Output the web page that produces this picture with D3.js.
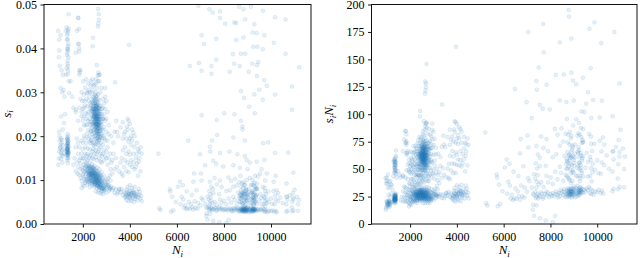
<!DOCTYPE html>
<html><head><meta charset="utf-8">
<script src="https://cdn.jsdelivr.net/npm/d3@7"></script>
<style>
body{margin:0;background:#fff}
svg text{font-family:"Liberation Serif","Times New Roman",serif;fill:#000}
</style>
</head><body><svg id="c" width="640" height="258"></svg>
<script>
// ---- data: [N_i, s_i] pairs (right panel plots s_i*N_i) ----
const upperCore = [[2450,.0262],[2510,.0248],[2580,.0231],[2620,.0219],[2490,.0270],[2540,.0255],[2600,.0240],[2660,.0226],[2470,.0251],[2530,.0236],
[2570,.0222],[2640,.0210],[2420,.0265],[2500,.0243],[2560,.0268],[2610,.0252],[2680,.0238],[2440,.0230],[2520,.0214],[2590,.0205],
[2480,.0276],[2550,.0284],[2630,.0262],[2700,.0245],[2410,.0248],[2460,.0239],[2540,.0226],[2600,.0212],[2650,.0247],[2720,.0230],
[2500,.0258],[2570,.0246],[2620,.0233],[2680,.0219],[2430,.0274],[2510,.0281],[2580,.0259],[2640,.0239],[2490,.0228],[2560,.0217],
[2470,.0244],[2530,.0229],[2590,.0265],[2660,.0252],[2400,.0257],[2550,.0240],[2610,.0227],[2690,.0211],[2520,.0263],[2580,.0250],
[2460,.0285],[2540,.0272],[2620,.0243],[2700,.0224],[2450,.0222],[2500,.0232],[2570,.0209],[2640,.0201],[2480,.0254],[2550,.0249],
[2600,.0236],[2660,.0218],[2520,.0241],[2590,.0228],[2630,.0255],[2420,.0240],[2490,.0262],[2560,.0259],[2610,.0246],[2670,.0233],
[2440,.0268],[2510,.0253],[2580,.0238],[2650,.0224],[2530,.0277],[2600,.0270],[2470,.0233],[2540,.0220],[2620,.0207],[2690,.0240],
[2500,.0287],[2560,.0290],[2430,.0281],[2620,.0272],[2380,.0262],[2720,.0250],[2550,.0232],[2610,.0224],[2490,.0247],[2570,.0242],
[2520,.0225],[2640,.0215],[2460,.0258],[2590,.0246],[2680,.0228],[2530,.0268],[2470,.0216],[2560,.0202],[2650,.0196],[2700,.0205]];
const upperCoreWide = [[2300,.0240],[2320,.0225],[2340,.0258],[2360,.0232],[2370,.0248],[2390,.0220],[2310,.0265],[2350,.0270],[2330,.0212],[2380,.0278],
[2740,.0238],[2760,.0225],[2780,.0245],[2730,.0212],[2770,.0205],[2750,.0255],[2800,.0228],[2720,.0262],[2790,.0215],[2810,.0240],
[2600,.0280],[2650,.0275],[2680,.0265],[2700,.0258],[2710,.0270],[2570,.0275],[2450,.0290],[2520,.0295],[2580,.0292],[2640,.0285],
[2660,.0205],[2700,.0198],[2620,.0195],[2560,.0193],[2500,.0200],[2480,.0208],[2430,.0212],[2400,.0228],[2410,.0205],[2740,.0200],
[2550,.0262],[2580,.0268],[2610,.0262],[2640,.0258],[2660,.0265],[2620,.0228],[2650,.0235],[2680,.0250],[2600,.0220],[2560,.0228],
[2530,.0250],[2500,.0238],[2470,.0262],[2450,.0245],[2440,.0255],[2590,.0213],[2630,.0240],[2670,.0244],[2700,.0232],[2720,.0220]];
const upperHalo = [[2250,.0255],[2300,.0232],[2330,.0275],[2350,.0210],[2280,.0290],[2200,.0268],[2150,.0240],[2380,.0298],[2420,.0305],[2550,.0300],
[2650,.0295],[2700,.0282],[2760,.0268],[2800,.0250],[2780,.0232],[2750,.0215],[2820,.0205],[2740,.0196],[2680,.0190],[2600,.0188],
[2520,.0194],[2440,.0199],[2350,.0190],[2300,.0185],[2240,.0214],[2180,.0226],[2120,.0252],[2080,.0280],[2040,.0295],[2000,.0262],
[2880,.0240],[2900,.0220],[2950,.0262],[2860,.0285],[2600,.0310],[2700,.0325],[2640,.0338],[2660,.0345],[2480,.0318],[2330,.0315],
[2250,.0305],[2170,.0298],[2100,.0310],[1950,.0300],[1900,.0285],[2020,.0325],[2150,.0330],[2400,.0330],[2950,.0310],[3000,.0280],
[2050,.0245],[2100,.0270],[2150,.0285],[2200,.0250],[2250,.0280],[2200,.0300],[2300,.0300],[2450,.0315],[2550,.0320],[2750,.0300],
[2850,.0265],[2900,.0250],[2950,.0235],[2850,.0215],[2900,.0195],[3000,.0210],[3050,.0255],[2800,.0310],[2720,.0340],[2640,.0325],
[2180,.0205],[2220,.0235],[2280,.0200],[2120,.0225],[2050,.0265],[1980,.0280],[1950,.0255],[2000,.0235],[2100,.0195],[2900,.0275],
[2380,.0185],[2450,.0180],[2560,.0182],[2660,.0180],[2780,.0185],[2850,.0240],[2820,.0262],[2230,.0320],[2350,.0325],[2950,.0290]];
const lowerCore = [[2200,.0118],[2250,.0112],[2300,.0121],[2350,.0108],[2400,.0115],[2450,.0102],[2500,.0110],[2550,.0098],[2600,.0106],[2650,.0094],
[2700,.0101],[2750,.0090],[2800,.0097],[2230,.0125],[2280,.0104],[2330,.0116],[2380,.0099],[2430,.0122],[2480,.0095],[2530,.0113],
[2580,.0091],[2630,.0109],[2680,.0088],[2730,.0104],[2780,.0086],[2210,.0108],[2260,.0128],[2310,.0101],[2360,.0124],[2410,.0094],
[2460,.0117],[2510,.0090],[2560,.0112],[2610,.0087],[2660,.0103],[2710,.0084],[2760,.0096],[2820,.0091],[2180,.0122],[2240,.0099],
[2290,.0130],[2340,.0112],[2390,.0105],[2440,.0110],[2490,.0118],[2540,.0104],[2590,.0100],[2640,.0098],[2690,.0095],[2740,.0092],
[2470,.0107],[2520,.0102],[2570,.0108],[2620,.0101],[2420,.0112],[2370,.0118],[2320,.0110],[2270,.0116],[2670,.0092],[2720,.0098],
[2500,.0096],[2550,.0105],[2450,.0125],[2400,.0128],[2350,.0100],[2600,.0115],[2650,.0111],[2700,.0108],[2300,.0096],[2250,.0120],
[2480,.0114],[2530,.0099],[2580,.0104],[2630,.0093],[2680,.0099],[2430,.0106],[2380,.0111],[2330,.0105],[2280,.0113],[2230,.0117],
[2560,.0094],[2610,.0097],[2510,.0108],[2460,.0103],[2410,.0119],[2360,.0114],[2760,.0088],[2810,.0094],[2850,.0089],[2870,.0083],
[2150,.0115],[2120,.0108],[2100,.0120],[2190,.0103],[2900,.0086],[2920,.0081],[2840,.0080],[2790,.0082],[2950,.0088],[2980,.0084]];
const lowerCoreWide = [[2000,.0122],[2050,.0118],[2080,.0128],[2120,.0132],[2160,.0126],[2020,.0108],[2060,.0102],[2140,.0098],[2180,.0130],[2220,.0134],
[2260,.0132],[2300,.0128],[2350,.0131],[2420,.0129],[2470,.0127],[2520,.0124],[2570,.0121],[2620,.0120],[2680,.0116],[2730,.0113],
[2780,.0110],[2830,.0105],[2880,.0100],[2930,.0097],[2980,.0093],[3030,.0090],[3080,.0086],[3120,.0083],[3160,.0079],[2890,.0078],
[2820,.0079],[2700,.0083],[2600,.0088],[2500,.0090],[2400,.0092],[2300,.0093],[2220,.0095],[2150,.0100],[2680,.0085],[2760,.0082],
[2340,.0120],[2390,.0124],[2440,.0116],[2490,.0122],[2540,.0117],[2590,.0110],[2640,.0114],[2690,.0105],[2740,.0108],[2790,.0100],
[2380,.0098],[2440,.0096],[2510,.0094],[2570,.0096],[2630,.0088],[2320,.0114],[2270,.0108],[2560,.0101],[2460,.0109],[2520,.0115]];
const lowerHalo = [[1900,.0105],[1950,.0098],[1850,.0112],[2000,.0090],[2050,.0135],[2100,.0142],[1980,.0128],[2150,.0138],[2200,.0145],[2300,.0140],
[2400,.0136],[2500,.0132],[2600,.0128],[2700,.0125],[2800,.0118],[2900,.0110],[3000,.0102],[3050,.0095],[3100,.0088],[3150,.0081],
[3200,.0085],[3250,.0078],[3300,.0082],[3100,.0076],[3000,.0072],[2900,.0075],[2800,.0074],[2700,.0078],[2600,.0082],[2500,.0085],
[2400,.0088],[2300,.0084],[2200,.0090],[2100,.0094],[2050,.0086],[1950,.0082],[2000,.0113],[1900,.0125],[3400,.0079],[3500,.0073],
[3450,.0068],[3350,.0071],[3550,.0080],[2650,.0072],[2550,.0074],[2750,.0070],[2850,.0068],[2950,.0079],[3080,.0104],[3180,.0099]];
const midHaze = [[2100,.0160],[2200,.0172],[2300,.0155],[2400,.0165],[2500,.0178],[2600,.0160],[2700,.0170],[2800,.0155],[2900,.0168],[3000,.0150],
[2150,.0185],[2350,.0190],[2450,.0148],[2550,.0152],[2650,.0185],[2750,.0142],[2850,.0180],[2950,.0190],[3050,.0175],[3150,.0160],
[3200,.0200],[3300,.0185],[3250,.0145],[1800,.0160],[1850,.0175],[1900,.0150],[1950,.0190],[2000,.0170],[2050,.0200],[1750,.0195],
[3350,.0210],[3100,.0225],[3000,.0240],[2900,.0200],[2050,.0225],[1900,.0215],[1800,.0235],[1700,.0255],[1850,.0265],[1950,.0245],
[2250,.0195],[2480,.0185],[2700,.0192],[2820,.0196],[3100,.0205],[2000,.0150],[2240,.0150],[2760,.0160],[3050,.0135],[3180,.0125],
[1750,.0140],[1800,.0130],[1850,.0145],[1900,.0138],[1950,.0160],[2000,.0185],[2100,.0175],[2200,.0160],[2300,.0170],[2400,.0150],
[2500,.0160],[2600,.0145],[2700,.0150],[2800,.0140],[2900,.0145],[3000,.0165],[3100,.0150],[3200,.0140],[3300,.0160],[3400,.0150],
[3450,.0130],[3350,.0125],[3250,.0115],[3150,.0110],[2050,.0150],[2150,.0155],[2350,.0158],[2450,.0170],[2550,.0168],[2650,.0165],
[2750,.0175],[2850,.0160],[2950,.0155],[3050,.0190],[1800,.0185],[1700,.0175],[1650,.0150],[1600,.0135],[1700,.0120],[1780,.0115]];
const columnLowN = [[1320,.0165],[1350,.0172],[1380,.0160],[1340,.0185],[1360,.0195],[1330,.0178],[1370,.0168],[1390,.0190],[1310,.0158],[1355,.0162],
[1345,.0175],[1365,.0182],[1385,.0200],[1325,.0192],[1375,.0155],[1335,.0150],[1395,.0176],[1350,.0205],[1360,.0170],[1340,.0164],
[1380,.0183],[1320,.0172],[1370,.0188],[1355,.0157],[1330,.0197],[1400,.0165],[1345,.0145],[1365,.0139],[1390,.0150],[1310,.0180],
[1350,.0166],[1360,.0178],[1340,.0192],[1375,.0173],[1385,.0161],[1325,.0168],[1355,.0184],[1335,.0170],[1370,.0163],[1345,.0158]];
const groupLeft = [[1000,.0165],[1050,.0175],[1100,.0158],[1020,.0190],[1080,.0195],[1120,.0168],[980,.0150],[1060,.0162],[1140,.0180],[1010,.0200],
[1090,.0185],[1150,.0155],[1030,.0172],[1070,.0148],[1110,.0192],[960,.0135],[1130,.0140],[1180,.0170],[1200,.0160],[1040,.0180]];
const columnHighS = [[1340,.0430],[1360,.0420],[1380,.0410],[1350,.0400],[1370,.0395],[1330,.0385],[1390,.0380],[1360,.0372],[1345,.0365],[1375,.0440],
[1355,.0435],[1385,.0405],[1340,.0390],[1370,.0360],[1380,.0350],[1330,.0420],[1395,.0445],
[1310,.0448],[1345,.0398],[1365,.0342],[1400,.0325],[1420,.0298],[1290,.0440],[1320,.0355]];
const lowNScatter = [[950,.0440],[1000,.0420],[1050,.0430],[980,.0380],[1020,.0360],[1100,.0350],[1060,.0310],[1120,.0300],[1000,.0395],[1150,.0340],
[1180,.0305],[1220,.0290],[1280,.0340],[1250,.0250],[1200,.0230],[1150,.0215],[1080,.0245],[1000,.0210],[1400,.0478],[1480,.0325],
[1550,.0290],[1600,.0265],[1700,.0260],[1750,.0440],[1800,.0470],[1850,.0400],[1900,.0350],[1850,.0340],[1700,.0390],[1800,.0410],
[1810,.0469],[1840,.0444],[1840,.0410],[1840,.0393],[1850,.0350],[1870,.0345],[2430,.0424],[2420,.0405],[2650,.0490],[2680,.0478],
[2680,.0465],[2660,.0457],[2700,.0540],[3960,.0408],[3370,.0323],[2590,.0362],[2640,.0450],[2690,.0340],[2560,.0330]];
const clusterMidLow = [[3800,.0070],[3850,.0065],[3900,.0072],[3950,.0068],[4000,.0064],[4050,.0070],[4100,.0066],[4150,.0073],[4200,.0062],[4250,.0068],
[4300,.0065],[3820,.0060],[3880,.0078],[3920,.0062],[3980,.0075],[4020,.0058],[4080,.0076],[4120,.0060],[4180,.0071],[4220,.0057],
[4280,.0074],[4350,.0061],[4400,.0067],[4450,.0058],[4480,.0064],[3750,.0074],[3700,.0066],[3650,.0080],[3600,.0072],[3550,.0078],
[3860,.0055],[3940,.0052],[4060,.0053],[4160,.0050],[4320,.0054],[3900,.0084],[4000,.0088],[4100,.0082],[4200,.0085],[4380,.0080],
[3960,.0069],[4040,.0067],[4110,.0071],[4190,.0066],[3870,.0067],[4260,.0063],[4420,.0073],[4500,.0052],[3780,.0062],[3990,.0061]];
const clusterMidHigh = [[3900,.0240],[3950,.0235],[4000,.0228],[3880,.0222],[4100,.0215],[4150,.0208],[4050,.0200],[3700,.0232],[3600,.0220],[3750,.0205],
[3850,.0195],[3950,.0188],[4050,.0180],[4200,.0176],[4300,.0185],[4350,.0170],[4400,.0165],[4450,.0175],[3800,.0175],[3700,.0168],
[3650,.0150],[3800,.0145],[3900,.0140],[4000,.0135],[4100,.0130],[4200,.0125],[4250,.0150],[4380,.0142],[3550,.0120],[3650,.0115],
[3950,.0118],[4150,.0160],[4000,.0158],[3500,.0200],[3450,.0210],[3420,.0235],[4300,.0138],
[3700,.0195],[3800,.0210],[3900,.0215],[4000,.0195],[4100,.0190],[4200,.0200],[4300,.0160],[4400,.0150],[4500,.0160],[3850,.0160],
[3950,.0165],[4050,.0145],[4150,.0140],[4250,.0130],[3750,.0130],[3600,.0140],[3700,.0110],[3850,.0120],[4450,.0120],[4350,.0110]];
const bandHighN = [[5250,.0036],[5300,.0032],[5750,.0028],[5850,.0031],[6300,.0037],[6400,.0034],[6450,.0036],[6550,.0035],[6650,.0038],[6700,.0033],
[6800,.0037],[6880,.0035],[7250,.0038],[7300,.0036],[7350,.0040],[7400,.0034],[7450,.0037],[7500,.0035],[7550,.0033],[7600,.0038],
[7650,.0036],[7700,.0032],[7780,.0035],[7850,.0033],[7900,.0036],[7950,.0031],[8000,.0034],[8050,.0032],[8100,.0035],[8150,.0031],
[8200,.0033],[8250,.0036],[8300,.0032],[8350,.0034],[8400,.0030],[8450,.0033],[8500,.0035],[8550,.0031],[8600,.0034],[8650,.0032],
[8700,.0036],[8720,.0031],[8750,.0034],[8780,.0029],[8800,.0033],[8820,.0036],[8840,.0031],[8860,.0034],[8880,.0030],[8900,.0033],
[8920,.0036],[8940,.0031],[8960,.0034],[8980,.0029],[9000,.0032],[9020,.0035],[9050,.0030],[9080,.0033],[9100,.0036],[9120,.0031],
[9150,.0034],[9180,.0030],[9200,.0033],[9220,.0031],[9250,.0034],[9280,.0030],[9300,.0033],[9320,.0035],[9350,.0031],[9380,.0034],
[9400,.0030],[9450,.0033],[9500,.0031],[9550,.0034],[9600,.0032],[9650,.0035],[9700,.0029],[9720,.0033],[9750,.0028],[9800,.0031],
[9850,.0027],[9900,.0030],[10000,.0029],[10050,.0031],[10150,.0028],[10200,.0030],[10250,.0027],[10650,.0028],[10700,.0030],[10900,.0029],
[10950,.0031],[11150,.0030],[8760,.0037],[8830,.0028],[8870,.0037],[8910,.0027],[9010,.0038],[8690,.0028],[9160,.0038],[9240,.0028],
[8580,.0037],[8620,.0029],[8440,.0037],[8330,.0029],[7820,.0038],[7680,.0030],[7480,.0031],[7380,.0032],[9060,.0027],[9130,.0028],
[8780,.0032],[8800,.0035],[8820,.0030],[8850,.0033],[8870,.0031],[8890,.0034],[8910,.0032],[8930,.0029],[8950,.0033],[8970,.0036],
[8740,.0033],[8760,.0030],[8990,.0031],[9210,.0032],[9230,.0035],[9260,.0032],[9290,.0033],[9310,.0031],[9270,.0036],[9190,.0029]];
const columnA = [[8820,.0045],[8700,.0050],[8950,.0055],[8780,.0060],[9000,.0065],[8860,.0070],[8720,.0075],[8930,.0080],[8880,.0042],[8760,.0048],
[8990,.0052],[8680,.0058],[8840,.0062],[9030,.0067],[8800,.0072],[8960,.0078],[8740,.0085],[8900,.0090],[8830,.0095],[8970,.0100],
[8790,.0047],[8950,.0053],[8910,.0060],[8660,.0063],[8960,.0069],[8780,.0071],[8930,.0076],[8820,.0082],[8870,.0088],[8760,.0093],
[8850,.0056],[8900,.0068],[8750,.0064],[8890,.0074],[8810,.0066],[9010,.0059],[8940,.0044],[8870,.0052],[8840,.0068],[8730,.0058],
[9000,.0062],[9040,.0071],[8690,.0068],[8710,.0066],[9050,.0080]];
const columnB = [[9250,.0045],[9320,.0052],[9180,.0058],[9360,.0064],[9280,.0070],[9200,.0076],[9370,.0082],[9250,.0088],[9300,.0094],[9220,.0100],
[9160,.0048],[9300,.0055],[9210,.0061],[9310,.0067],[9230,.0073],[9340,.0079],[9250,.0060],[9390,.0066],[9240,.0054],[9280,.0047],
[9170,.0072],[9320,.0085],[9200,.0090],[9350,.0062],[9180,.0070],[9260,.0042],[9290,.0058],[9230,.0066],[9400,.0079],[9340,.0050]];
const columnsOther = [[9700,.0045],[9750,.0052],[9720,.0060],[9780,.0068],[9740,.0075],[9800,.0048],[9760,.0040],[9690,.0063],[9810,.0056],[9730,.0082],
[10150,.0045],[10200,.0055],[10180,.0065],[10900,.0050],[10950,.0060],[10920,.0070],[10650,.0045],[10700,.0055],[11150,.0045],[11100,.0062],
[10880,.0038],[11180,.0055],[10680,.0062],[7400,.0045],[7420,.0052],[7450,.0060],[7430,.0068],[7380,.0075],[7460,.0085],[7500,.0048],
[7350,.0056],[7300,.0062],[7550,.0070]];
const scatterHighN = [[7690,.0237],[8010,.0252],[8440,.0250],[8720,.0235],[8780,.0222],[8790,.0215],[7710,.0203],[7500,.0190],[6480,.0190],[8890,.0190],
[8400,.0197],[9670,.0184],[9880,.0186],[10730,.0163],[10170,.0162],[7400,.0176],[7420,.0165],[6980,.0159],[7830,.0162],[8230,.0165],
[8570,.0159],[8890,.0155],[8960,.0146],[9100,.0140],[9390,.0142],[9720,.0146],[7540,.0144],[7970,.0131],[8400,.0134],[8680,.0128],
[9000,.0125],[9530,.0115],[9820,.0115],[10950,.0117],[6730,.0115],[7200,.0134],[7670,.0137],[6130,.0096],[6700,.0096],[7050,.0099],
[7400,.0096],[7830,.0099],[8190,.0106],[8470,.0103],[9320,.0110],[9750,.0099],[10110,.0096],[10660,.0092],[7020,.0115],[6420,.0074],
[6840,.0077],[7540,.0080],[7900,.0084],[8250,.0077],[9390,.0080],[9880,.0074],[10240,.0077],[10660,.0062],[6200,.0062],[6630,.0066],
[7050,.0059],[7830,.0056],[8400,.0062],[9600,.0059],[10950,.0056],[6270,.0056],[7260,.0024],[7050,.0248],[5215,.0160],[5700,.0079],
[5720,.0074],[5800,.0062],[6050,.0085],[6250,.0088],[6150,.0045],[5950,.0050],[6350,.0042],
[6500,.0050],[6600,.0045],[6750,.0052],[6900,.0048],[7000,.0042],[7100,.0055],[7200,.0046],[7600,.0050],[7700,.0044],[7900,.0048],
[8000,.0053],[8100,.0045],[8200,.0058],[8300,.0049],[8450,.0055],[8550,.0046],[8650,.0052],[9100,.0048],[9150,.0056],[9400,.0046],
[9500,.0054],[9550,.0068],[9600,.0045],[9900,.0050],[10000,.0058],[10050,.0046],[10300,.0052],[10400,.0060],[10500,.0048],[10800,.0065],
[8600,.0072],[8550,.0088],[8650,.0095],[8700,.0110],[9100,.0105],[9150,.0088],[9400,.0092],[9450,.0108],[8400,.0085],[8300,.0098],
[8100,.0075],[7800,.0068],[7700,.0090],[7600,.0105],[9600,.0125],[9650,.0085],[10100,.0075],[10300,.0070],[10200,.0110],[11000,.0078],
[7250,.0018],[7300,.0010],[7550,.0007],[7800,.0004],[8100,.0002],[8200,.0009],[7400,.0023]];
const sparseTop = [[6910,.0497],[7380,.0489],[7520,.0482],[7830,.0484],[7830,.0469],[8050,.0456],[8440,.0459],[8520,.0458],[8650,.0495],[8830,.0489],
[9150,.0495],[8900,.0466],[9290,.0455],[9660,.0486],[10170,.0471],[10620,.0466],[7050,.0430],[7150,.0410],[7670,.0422],[8380,.0387],
[8830,.0425],[8900,.0388],[8720,.0388],[9220,.0436],[9390,.0435],[9250,.0404],[9430,.0404],[9720,.0430],[9650,.0398],[10120,.0413],
[10620,.0388],[11200,.0357],[6550,.0360],[6940,.0367],[7050,.0349],[7470,.0360],[7470,.0342],[8240,.0347],[8440,.0365],[8670,.0360],
[9060,.0347],[9200,.0365],[9400,.0362],[9460,.0369],[9400,.0337],[9720,.0328],[9820,.0315],[8720,.0303],[8860,.0287],[9290,.0295],
[9500,.0306],[9650,.0283],[9070,.0267],[9310,.0252],[10170,.0295],[10890,.0313],[10890,.0260],[7670,.0374],[8520,.0419]];

const xTicks = [2000, 4000, 6000, 8000, 10000];
const yTicksLeft = [0, 0.01, 0.02, 0.03, 0.04, 0.05];
const yTicksRight = [0, 25, 50, 75, 100, 125, 150, 175, 200];

const points = [].concat(upperCore, upperCoreWide, upperHalo, lowerCore, lowerCoreWide, lowerHalo, midHaze,
  columnLowN, groupLeft, columnHighS, lowNScatter, clusterMidLow, clusterMidHigh, bandHighN, columnA,
  columnB, columnsOther, scatterHighN, sparseTop);

const FONT = '"Liberation Serif","Times New Roman",serif';
const svg = d3.select('#c');
svg.append('rect').attr('width', 640).attr('height', 258).attr('fill', '#fff');
const plotTop = 4.5, plotBottom = 224;
const xDomain = [350, 11700];
const color = '#1f77b4';

function panel(cfg) {
  const x = d3.scaleLinear().domain(xDomain).range([cfg.left, cfg.right]);
  const y = d3.scaleLinear().domain(cfg.yDomain).range([plotBottom, plotTop]);
  const g = svg.append('g');
  const clipId = 'clip-' + cfg.id;
  svg.append('clipPath').attr('id', clipId).append('rect')
    .attr('x', cfg.left).attr('y', plotTop).attr('width', cfg.right - cfg.left).attr('height', plotBottom - plotTop);
  g.append('g').attr('clip-path', `url(#${clipId})`)
    .selectAll('circle').data(points).join('circle')
    .attr('cx', d => x(d[0])).attr('cy', d => y(cfg.yValue(d)))
    .attr('r', 2.0)
    .attr('fill', color).attr('fill-opacity', 0.11)
    .attr('stroke', color).attr('stroke-opacity', 0.11).attr('stroke-width', 0.8);

  const xa = d3.axisBottom(x).tickValues(xTicks).tickSize(3.5).tickPadding(4.5).tickFormat(d3.format('d'));
  g.append('g').attr('transform', `translate(0,${plotBottom})`).call(xa)
    .call(a => a.select('.domain').remove())
    .attr('font-family', FONT).attr('font-size', 12)
    .call(a => a.selectAll('text').attr('font-family', FONT).attr('font-size', 12))
    .call(a => a.selectAll('line').attr('stroke-width', 0.9));
  const ya = d3.axisLeft(y).tickValues(cfg.yTicks).tickSize(3.5).tickPadding(3.5).tickFormat(cfg.yFmt);
  g.append('g').attr('transform', `translate(${cfg.left},0)`).call(ya)
    .call(a => a.select('.domain').remove())
    .attr('font-family', FONT).attr('font-size', 12)
    .call(a => a.selectAll('text').attr('font-family', FONT).attr('font-size', 12))
    .call(a => a.selectAll('line').attr('stroke-width', 0.9));

  g.append('rect').attr('x', cfg.left).attr('y', plotTop)
    .attr('width', cfg.right - cfg.left).attr('height', plotBottom - plotTop)
    .attr('fill', 'none').attr('stroke', '#111').attr('stroke-width', 1);

  // x label N_i
  const xl = g.append('text').attr('x', (cfg.left + cfg.right) / 2).attr('y', 254)
    .attr('text-anchor', 'middle').attr('font-size', 13).attr('font-family', FONT);
  xl.append('tspan').attr('font-style', 'italic').text('N');
  xl.append('tspan').attr('font-style', 'italic').attr('font-size', 9).attr('dy', 2.5).text('i');

  // y label
  const yl = g.append('text').attr('transform', `translate(${cfg.ylabelX},114) rotate(-90)`)
    .attr('text-anchor', 'middle').attr('font-size', 13).attr('font-family', FONT);
  cfg.ylabel.forEach((p, i) => {
    const t = yl.append('tspan').attr('font-style', 'italic').text(p[0]);
    if (p[1]) t.attr('font-size', 9).attr('dy', 2.5);
    else if (i > 0) t.attr('dy', -2.5);
  });
}

panel({id: 'left', left: 44, right: 311, yDomain: [0, 0.05], yTicks: yTicksLeft,
  yFmt: d3.format('.2f'), yValue: d => d[1], ylabelX: 10.5, ylabel: [['s', false], ['i', true]]});
panel({id: 'right', left: 371.5, right: 637, yDomain: [0, 200], yTicks: yTicksRight,
  yFmt: d3.format('d'), yValue: d => d[0] * d[1], ylabelX: 333,
  ylabel: [['s', false], ['i', true], ['N', false], ['i', true]]});
</script>
</body></html>
